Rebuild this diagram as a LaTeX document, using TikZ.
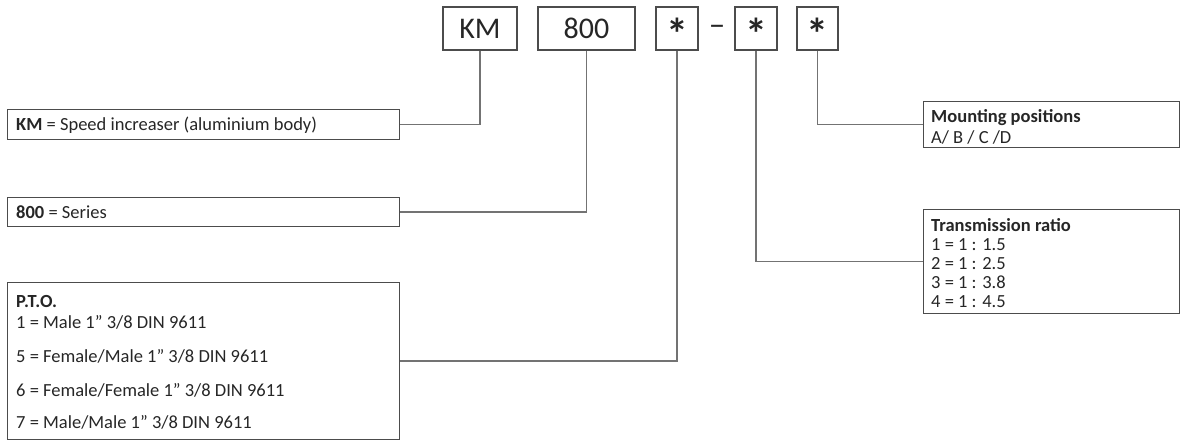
\documentclass[tikz,border=0pt]{standalone}
\usepackage{fontspec}
\setmainfont{Carlito}
\begin{document}
\begin{tikzpicture}[x=1pt,y=-1pt,
  box/.style={draw=black!70, line width=1.2pt, rectangle, inner sep=0pt},
  code/.style={box, minimum height=43, font=\fontsize{30}{33}\selectfont, text=black!85},
  star/.style={code, minimum width=42, font=\fontsize{44}{48}\bfseries, text height=0pt, text depth=0pt},
  conn/.style={draw=black!55, line width=1.3pt},
  txt/.style={font=\fontsize{18.5}{21}\selectfont, text=black!85, inner sep=0pt},
  line/.style={txt, anchor=base west}]
\useasboundingbox (0,0) rectangle (1182,440);
% code boxes
\node[code, minimum width=74] (km) at (480,28.5) {KM};
\node[code, minimum width=97] (s800) at (586.5,28.5) {800};
\node[star] (st1) at (677,28.5) {\raisebox{-21pt}{*}};
\node[txt, font=\fontsize{33}{35}\selectfont, anchor=base] (dash) at (717,35) {–};
\node[star] (st2) at (756,28.5) {\raisebox{-21pt}{*}};
\node[star, minimum width=41] (st3) at (817.5,28.5) {\raisebox{-21pt}{*}};
% left boxes
\node[box, minimum width=392, minimum height=30, anchor=north west] (kmd) at (7,109) {};
\node[line] (kmt) at (16,130) {\textbf{KM} = Speed increaser (aluminium body)};
\node[box, minimum width=392, minimum height=29, anchor=north west] (d800) at (7,197) {};
\node[line] (t800) at (16,218) {\textbf{800} = Series};
\node[box, minimum width=392, minimum height=157, anchor=north west] (pto) at (7,282) {};
\node[line] (pto0) at (16,307) {\textbf{P.T.O.}};
\node[line] (pto1) at (16,328) {1 = Male 1” 3/8 DIN 9611};
\node[line] (pto5) at (16,362) {5 = Female/Male 1” 3/8 DIN 9611};
\node[line] (pto6) at (16,396) {6 = Female/Female 1” 3/8 DIN 9611};
\node[line] (pto7) at (16,428) {7 = Male/Male 1” 3/8 DIN 9611};
% right boxes
\node[box, minimum width=256, minimum height=46, anchor=north west] (mount) at (923,101) {};
\node[line] (m0) at (931,122) {\textbf{Mounting positions}};
\node[line] (m1) at (931,143) {A/ B / C /D};
\node[box, minimum width=256, minimum height=104, anchor=north west] (trans) at (923,209) {};
\node[line] (tr0) at (931,231) {\textbf{Transmission ratio}};
\node[line] (tr1) at (931,250) {1 = 1 : 1.5};
\node[line] (tr2) at (931,269) {2 = 1 : 2.5};
\node[line] (tr3) at (931,288) {3 = 1 : 3.8};
\node[line] (tr4) at (931,307) {4 = 1 : 4.5};
% connectors
\draw[conn] (km.south) |- (kmd.east);
\draw[conn] (s800.south) |- (d800.east);
\draw[conn] (st1.south) |- (pto.east);
\draw[conn] (st2.south) |- (trans.west);
\draw[conn] (st3.south) |- (mount.west);
\end{tikzpicture}
\end{document}
